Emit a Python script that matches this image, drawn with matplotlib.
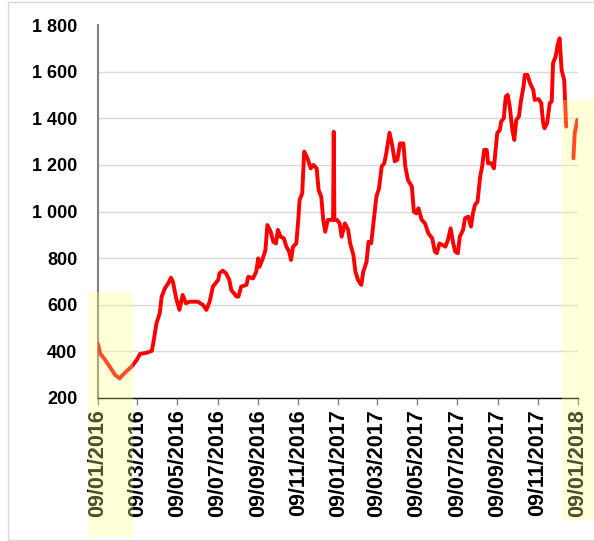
import numpy as np
import pandas as pd
import matplotlib
matplotlib.use("Agg")
import matplotlib.pyplot as plt
import matplotlib.dates as mdates
from matplotlib.ticker import FuncFormatter
from matplotlib.patches import Rectangle

plt.rcParams['font.family'] = ['Liberation Sans', 'DejaVu Sans']

# Price series (NaN marks the holiday gap)
dates = [
    "2016-01-09", "2016-01-12", "2016-01-20", "2016-01-27", "2016-02-04", "2016-02-11",
    "2016-02-19", "2016-02-29", "2016-03-08", "2016-03-13", "2016-03-23", "2016-03-31",
    "2016-04-03", "2016-04-07", "2016-04-12", "2016-04-15", "2016-04-20", "2016-04-25",
    "2016-04-29", "2016-05-02", "2016-05-07", "2016-05-12", "2016-05-17", "2016-05-22",
    "2016-05-27", "2016-06-09", "2016-06-17", "2016-06-22", "2016-06-27", "2016-07-02",
    "2016-07-10", "2016-07-12", "2016-07-17", "2016-07-22", "2016-07-27", "2016-07-30",
    "2016-08-07", "2016-08-10", "2016-08-14", "2016-08-22", "2016-08-25", "2016-09-01",
    "2016-09-06", "2016-09-09", "2016-09-11", "2016-09-16", "2016-09-20", "2016-09-23",
    "2016-09-28", "2016-10-02", "2016-10-06", "2016-10-09", "2016-10-13", "2016-10-18",
    "2016-10-22", "2016-10-26", "2016-10-29", "2016-11-01", "2016-11-06", "2016-11-09",
    "2016-11-11", "2016-11-15", "2016-11-18", "2016-11-23", "2016-11-28", "2016-12-02",
    "2016-12-07", "2016-12-10", "2016-12-14", "2016-12-17", "2016-12-20", "2016-12-24",
    "2017-01-01", "2017-01-02", "2017-01-03", "2017-01-07", "2017-01-11", "2017-01-14",
    "2017-01-19", "2017-01-24", "2017-01-27", "2017-02-01", "2017-02-04", "2017-02-08",
    "2017-02-13", "2017-02-16", "2017-02-21", "2017-02-24", "2017-02-28", "2017-03-04",
    "2017-03-08", "2017-03-12", "2017-03-16", "2017-03-20", "2017-03-23", "2017-03-28",
    "2017-04-01", "2017-04-05", "2017-04-09", "2017-04-13", "2017-04-18", "2017-04-21",
    "2017-04-25", "2017-05-01", "2017-05-04", "2017-05-08", "2017-05-11", "2017-05-16",
    "2017-05-21", "2017-05-26", "2017-06-01", "2017-06-05", "2017-06-08", "2017-06-12",
    "2017-06-17", "2017-06-21", "2017-06-25", "2017-06-29", "2017-07-03", "2017-07-06",
    "2017-07-10", "2017-07-13", "2017-07-18", "2017-07-21", "2017-07-26", "2017-07-30",
    "2017-08-02", "2017-08-05", "2017-08-09", "2017-08-13", "2017-08-16", "2017-08-19",
    "2017-08-23", "2017-08-25", "2017-08-30", "2017-09-03", "2017-09-05", "2017-09-08",
    "2017-09-12", "2017-09-14", "2017-09-18", "2017-09-21", "2017-09-24", "2017-09-27",
    "2017-10-01", "2017-10-04", "2017-10-07", "2017-10-11", "2017-10-14", "2017-10-18",
    "2017-10-20", "2017-10-24", "2017-10-28", "2017-11-02", "2017-11-04", "2017-11-10",
    "2017-11-14", "2017-11-17", "2017-11-19", "2017-11-23", "2017-11-27", "2017-11-30",
    "2017-12-02", "2017-12-06", "2017-12-09", "2017-12-12", "2017-12-15", "2017-12-19",
    "2017-12-22", "2017-12-28", "2018-01-02", "2018-01-04", "2018-01-08",
]
prices = [
    432, 392, 363, 334, 299, 284,
    309, 334, 363, 389, 394, 402,
    449, 520, 563, 635, 671, 692,
    716, 700, 628, 578, 642, 606,
    613, 613, 599, 578, 613, 678,
    706, 735, 746, 735, 706, 663,
    635, 635, 678, 685, 720, 713,
    742, 799, 763, 799, 835, 942,
    913, 870, 863, 921, 892, 885,
    849, 828, 792, 849, 863, 964,
    1049, 1078, 1257, 1229, 1185, 1200,
    1185, 1092, 1064, 964, 913, 964,
    964, 1342, 964, 964, 949, 892,
    949, 921, 863, 813, 742, 706,
    685, 742, 785, 870, 863, 964,
    1064, 1099, 1193, 1207, 1250, 1338,
    1285, 1215, 1222, 1292, 1292, 1193,
    1135, 1107, 999, 992, 1014, 964,
    949, 907, 885, 828, 821, 863,
    856, 849, 878, 928, 863, 828,
    821, 892, 921, 971, 978, 935,
    992, 1028, 1042, 1150, 1193, 1264,
    1264, 1207, 1207, 1185, 1250, 1336,
    1350, 1386, 1400, 1493, 1500, 1451,
    1350, 1307, 1393, 1407, 1472, 1536,
    1586, 1586, 1550, 1521, 1479, 1482,
    1465, 1379, 1357, 1379, 1465, 1472,
    1636, 1665, 1715, 1743, 1607, 1564,
    1364, np.nan, 1228, 1336, 1393,
]
tick_dates = ["2016-01-09", "2016-03-09", "2016-05-09", "2016-07-09", "2016-09-09",
              "2016-11-09", "2017-01-09", "2017-03-09", "2017-05-09", "2017-07-09",
              "2017-09-09", "2017-11-09", "2018-01-09"]
y_ticks = [200, 400, 600, 800, 1000, 1200, 1400, 1600, 1800]

x = pd.to_datetime(dates)
ticks = pd.to_datetime(tick_dates)

fig = plt.figure(figsize=(5.94, 5.41), dpi=100)
ax = fig.add_axes([98/594, 1 - 398/541, 480/594, 373/541])

ax.plot(x, prices, color="#ff0000", lw=2.8, solid_joinstyle="round",
        solid_capstyle="round", zorder=3)

ax.set_xlim(ticks[0], ticks[-1])
ax.set_ylim(200, 1800)
ax.set_xticks(ticks)
ax.xaxis.set_major_formatter(mdates.DateFormatter("%d/%m/%Y"))
ax.set_yticks(y_ticks)
ax.yaxis.set_major_formatter(FuncFormatter(lambda v, p: f"{int(v):,}".replace(",", " ")))

ax.tick_params(axis="x", direction="out", length=5, width=1, color="#808080",
               labelrotation=90, labelsize=15.5, pad=3)
ax.tick_params(axis="y", length=0, labelsize=13, pad=15)
for lab in ax.get_xticklabels() + ax.get_yticklabels():
    lab.set_fontweight("bold")

ax.grid(axis="y", color="#d9d9d9", lw=1)
ax.yaxis.get_gridlines()[-1].set_visible(False)
ax.set_axisbelow(True)

for s in ["top", "right"]:
    ax.spines[s].set_visible(False)
ax.spines["left"].set_color("#808080")
ax.spines["left"].set_linewidth(1.5)
ax.spines["bottom"].set_color("black")
ax.spines["bottom"].set_linewidth(1)

# outer frame and the yellow highlight boxes
fig.patches.append(Rectangle((8/594, 1 - 540/541), 600/594, 538/541, transform=fig.transFigure,
                             fill=False, edgecolor="#d9d9d9", lw=1))
fig.patches.append(Rectangle((88/594, 1 - 537/541), 45/594, 245/541, transform=fig.transFigure,
                             facecolor="#ffff80", alpha=0.3, edgecolor="none", zorder=5))
fig.patches.append(Rectangle((562/594, 1 - 520/541), 40/594, 420/541, transform=fig.transFigure,
                             facecolor="#ffff80", alpha=0.3, edgecolor="none", zorder=5))

fig.savefig("out.png", dpi=100)
